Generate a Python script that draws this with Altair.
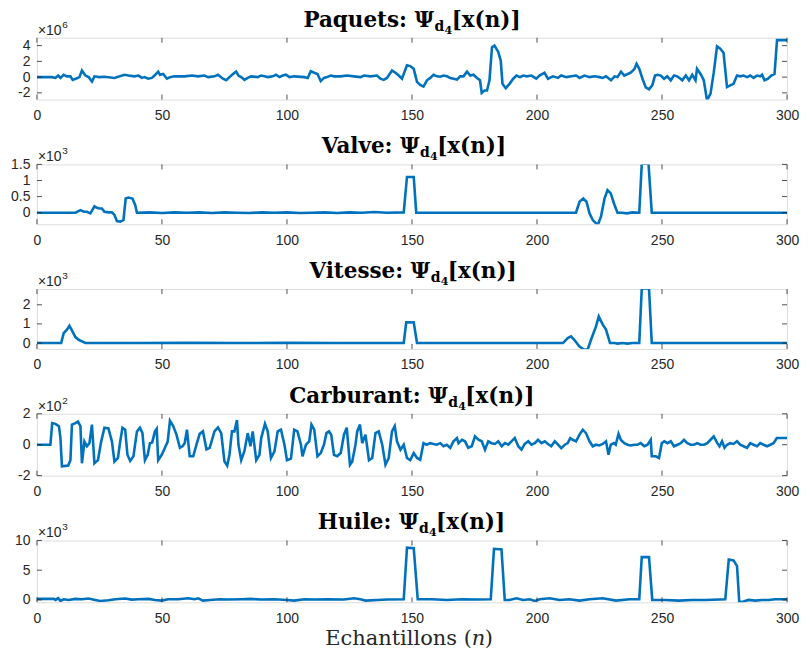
import altair as alt
import pandas as pd

# ---------------- data ----------------
X_TICKS = [0, 50, 100, 150, 200, 250, 300]

paquets_n = [0,6,7.4,8.5,9.4,10.7,12,13.4,14.3,16,17,18,19.4,20.7,22,23,25,27,31,35,36.6,39,40.6,42,43,44.5,46,47,48.5,49.2,50.5,52,53.2,55,59,62,64.5,67,68.5,71,72.4,74.4,75.7,77,78.4,79.7,80.6,81.7,83,84.3,85.7,88.3,89.6,91,92.3,94.3,95.6,97,98.3,99.6,101,103,107,108.3,109.5,110.9,112.2,113.5,114.8,116,117.5,118.8,121.5,124,126.8,129.4,130.8,133.4,136,137.4,138.7,140,142,143.4,144.7,146,148,149.3,150.7,152,153.3,154.6,156,157.3,158.6,160,161.3,162.6,164,165.3,166.6,168,169.3,170.6,172,173.3,174.6,176,177.2,177.9,179,180,181,182,183,184.5,185.5,186.2,187.5,189,190.5,191.8,193.2,194.5,195.8,197.8,199.7,201,203,204.4,206.4,208.4,209.7,211.7,213.7,215.7,217,219,221,223,225,226.3,227.6,229.6,231,232.2,233.6,234.9,236.3,237.6,239,239.8,240.9,242.2,243.5,244.8,246.1,247.2,248.2,249.5,250.8,252.1,253.5,254.8,256.1,257.4,258.1,259.5,260.8,262.1,263.4,264,265.4,266.7,268,269.4,270.7,272,273.3,274.6,276,277.3,278.6,280,281.3,282.6,284,285.3,286.6,288,289.3,290,291,292.4,293.7,295,296,300]
paquets_v = [0,0,-0.1,0.2,-0.1,0.3,0.1,0.1,-0.35,-0.15,0,0.85,0.2,0,-0.55,0.1,0,0.05,-0.1,0.3,0.2,0.1,0.2,-0.1,0,-0.2,-0.1,0.2,0.7,0.3,0.4,-0.2,0,0.1,0.1,0.2,0.1,0.2,0,0.1,0.3,-0.2,-0.4,0,0.4,0.7,0.2,0,-0.35,-0.1,0.1,0,0.2,0.1,0,0.1,0.3,0,0.2,0.3,0,0.1,0,-0.1,0.75,0.55,0.4,-0.5,-0.1,0,0.2,0.1,0.1,0.2,0.1,0,0.2,0.1,0.2,-0.2,-0.35,-0.1,0.85,0.55,0.2,-0.2,1.5,1.4,1.05,-0.6,-1.0,-1.2,-0.4,-0.1,0.3,0.1,0.05,0.2,0.1,-0.1,-0.2,-0.3,0.1,0.1,0.7,0.2,0.3,-0.1,-0.4,-2.0,-1.7,-1.7,-0.4,3.8,4.0,3.2,2.1,-0.85,-1.4,-0.85,-0.2,0.2,0,0.2,0.1,0.2,-0.2,0.2,0.55,-0.2,0.1,-0.1,0.2,0,0.1,0.2,-0.1,0.2,0,0.1,0,-0.1,0.1,-0.4,0.1,0,0.7,0.2,0.4,0.6,1.05,1.7,1.05,-0.2,-1.3,-1.55,-1.05,0.2,0.3,0.2,-0.2,0.1,-0.4,0.2,0.1,-0.2,-0.4,0.2,-0.4,0.3,-0.4,1.05,0.4,-0.4,-2.95,-2.1,0.6,3.9,3.6,3.1,-1.26,-1.05,-0.85,0.2,0.1,0.2,0,0.2,-0.1,0.2,0.1,0.3,-0.4,-0.2,0.2,0.4,4.7,4.7]

valve_n = [0,15.4,17.4,18.8,20,21.4,23,24,25,26,27,28.6,30,31,32,33.3,34.6,35.5,36.6,38.2,39.3,40,45,50,55,60,65,70,75,80,85,90,95,100,105,110,115,120,125,130,135,140,146.7,148,150.7,151.7,160,170,180,190,200,210,215.6,217,218.5,219.8,221,222.3,224.3,225.6,227,228.2,229.5,231,232.2,234,236,238,240.9,241.9,244.6,245.9,300]
valve_v = [0,0,0.08,0.03,0.03,-0.02,0.2,0.15,0.13,0.13,0.03,0.01,0.01,-0.07,-0.26,-0.28,-0.23,0.44,0.47,0.44,0.24,0,0.01,-0.01,0.01,0,0.01,-0.01,0.01,0,-0.01,0.01,0,0.01,-0.01,0,0.01,-0.01,0.01,0,0.02,0,0.01,1.11,1.11,0,0,0,0,0,0,0,0,0.34,0.44,0.34,-0.02,-0.23,-0.38,-0.12,0.44,0.7,0.6,0.24,0,0,-0.02,0.01,0,1.52,1.52,0,0]

vitesse_n = [0,9.7,10.7,12,13,14,15.4,16.7,18,19.4,40,60,80,100,120,146.7,147.7,150.7,152,180,210.4,212.3,213.6,214.9,216.9,218.9,220.3,221.6,223.6,224.7,226.3,227.6,229.2,231,232.2,234.2,236.2,238.2,240.9,241.9,244.8,245.9,300]
vitesse_v = [0,0,0.52,0.7,0.9,0.66,0.31,0.17,0.09,0,0,0.01,0,0.01,0,0,1.08,1.08,0,0,0,0.26,0.35,0.17,-0.17,-0.35,-0.33,0.17,0.87,1.39,0.96,0.7,0,0,-0.03,0,-0.03,0,0,2.85,2.85,0,0]

carburant_n = [0,5.4,6.1,7.4,8.8,9.4,10,11.4,12.5,13.4,14,15.4,16.4,17.4,18,19,20,21,22,23,24.4,25.7,27,28.6,30,31,32.4,33.3,34.2,35.3,36.2,37.3,38.6,40,41.2,42.2,43.2,44.3,45.2,46.1,47.2,47.9,48.5,49.9,51.2,52.3,53.2,54.5,55.8,57.2,58.2,59.1,60,61.1,62.5,63.8,65.1,66.4,67.8,69.1,71,72.4,73.7,75,76.1,77,78,79,80,80.6,81.7,83,84.3,85.4,86.3,87.7,89,89.7,91.2,92.3,93.6,95,96.3,97.6,99,100,101.6,102.9,104.2,105.6,106.2,107.6,108.9,109.8,110.9,112.2,113.5,114.8,115.8,116.8,117.7,118.8,120.1,121.5,122.8,123.9,125.2,126.1,127.4,128.1,129.2,130.1,131.4,132.8,134.1,135.4,136.7,138.1,139.4,140.7,142,143.1,144,145.4,146.7,148,149.3,150.7,152,153.3,154.6,155.9,157.3,158.6,159.9,161.3,162.6,163.9,165.3,166.6,168,168.6,170,171.2,172.5,173.9,175.2,176.6,177.9,179.2,180.5,181.9,183.2,184.5,185.9,187.2,188.5,189.8,191.1,192.5,193.8,195.1,196.5,197.8,199.1,200.4,201.8,203.1,204.4,205.7,207.1,208.4,209.7,211.1,212.3,213.3,214.3,215.6,217,218.3,219.6,221,222.3,223.6,224.9,226.3,227.6,228.6,229.5,230.8,231.5,232.6,233.5,234.9,236.2,237.5,238.9,240.2,241.5,242.9,244.2,245.5,245.9,247.5,248.8,249.9,250.9,252.2,253.5,254.8,256.2,257.5,258.8,260.1,261.5,262.8,264.1,265.4,266.8,268.1,269.4,270.7,272.1,273,274,275,276,277.3,278.6,280,281.3,282.6,284,285.3,286.6,288,289.3,290.6,292,293.3,294.6,295.9,300]
carburant_v = [0,0,1.4,1.35,1.2,0.45,-1.4,-1.37,-1.35,-1.0,1.3,1.4,1.5,1.2,-1.2,0.2,-0.1,0.1,1.3,-1.2,-1.0,0.2,1.1,1.05,0.2,-1.1,-0.86,0.2,1.1,0.97,-0.65,-1.05,-0.75,0.86,1.1,0.75,-1.0,-0.65,0.1,0.15,0.86,1.02,-1.0,-0.65,-0.2,0.2,1.55,1.2,0.65,-0.2,-0.1,0.1,0.97,-0.75,-0.75,0,0.7,0.86,-0.3,-0.2,0.86,1.12,0.75,-1.08,-1.35,-0.65,0.86,0.86,1.6,0,-1.0,-0.4,0.75,-0.1,0.86,-1.0,-0.65,0.43,1.35,0.86,-0.86,-0.43,0.86,0.97,0,-1.0,-0.9,0.97,0.86,0,-0.75,0,0.22,1.3,0.97,-0.75,-0.54,0,0.75,0.86,0.65,-0.65,-0.75,-0.54,0.65,1.1,-1.3,-1.08,0,0.86,1.3,0.1,0.65,-1.0,-0.86,0.75,0.86,0,-1.3,-0.86,0.86,1.2,0.22,-0.32,0,-0.86,-1.0,-0.54,-0.86,-0.97,0.1,0,0.1,0.05,0,0.1,-0.1,0,-0.2,0.22,0.43,0.1,0.32,0.22,-0.2,-0.1,0.54,0.32,0.22,-0.32,0.22,0.1,0.05,0.22,-0.1,0.1,0,0.22,0.43,-0.1,-0.32,0.05,0.22,0,0.1,0.32,0.1,0.22,0.05,-0.1,0.22,0,-0.22,0,0.1,0.43,0.32,0.22,0.65,0.97,0.75,0.22,-0.1,0,-0.05,0.05,0.22,-0.65,0,0.1,0,0.7,0.32,0.1,0,-0.05,0,0,0.1,-0.1,0,0.32,-0.75,-0.75,-0.86,0.1,0.22,0.1,0.22,-0.1,0,0.1,0.32,0.1,0,0,0.1,0,0,0.1,0.32,0.54,0.1,-0.1,0.22,-0.2,0,0.1,0.05,0.22,0,-0.1,-0.2,0.1,0,-0.1,0.1,0,-0.1,0,0.1,0.43,0.43]

huile_n = [0,1.5,6.8,7.4,8.5,9.4,10.7,12.7,15.4,18,20.7,23.3,25.3,28.6,31.3,35.3,37.9,40.6,44.6,47.2,49.9,52.5,56.5,60.5,63.1,64.5,66.4,69.1,73.1,76.4,81.7,85.7,89.7,95,100,102.9,106.9,110.9,116.2,122.8,126.8,129.4,131.4,136.1,140,146.7,148,150.7,152.3,158,164,170,176,181.5,182.8,185.8,187.1,189,191.8,194.4,197.1,199.1,201.1,205,209,213,217,221,226.3,231.6,237,240.9,241.9,244.8,246.1,251.4,256.7,262,267.3,275.3,276.7,278.6,280,280.9,282.6,284.6,287.3,290,292.6,295.3,300]
huile_v = [0.17,0.17,0.17,0,0.28,-0.17,0.11,0,0.17,0.11,0.23,0,-0.17,-0.06,0.11,0.23,0.06,0.11,0.17,0,-0.11,0.11,0.11,0.28,0.11,0.28,-0.11,0,0.11,0.06,0.11,0.17,0.06,0.11,0,-0.11,0.11,0.06,0.11,0.06,0.28,0.11,-0.11,0,0.06,0.11,8.8,8.7,0.11,0.11,0,0.11,0.06,0.11,8.6,8.5,0,0,0.28,0,0.11,-0.17,0.11,0.28,0,0.11,-0.11,0.11,0.28,-0.11,0.11,0.11,7.2,7.2,0,0,-0.11,0,0,0.11,6.8,6.65,5.7,-0.4,-0.28,0,-0.11,0,0,0.11,0.11]

PANELS = [
    ("Paquets:", "6", paquets_n, paquets_v, [-2.85, 5.0], [-2, 0, 2, 4]),
    ("Valve:", "3", valve_n, valve_v, [-0.36, 1.5], [0, 0.5, 1, 1.5]),
    ("Vitesse:", "3", vitesse_n, vitesse_v, [-0.31, 2.82], [0, 1, 2]),
    ("Carburant:", "2", carburant_n, carburant_v, [-2, 2], [-2, 0, 2]),
    ("Huile:", "3", huile_n, huile_v, [-0.4, 10], [0, 5, 10]),
]

# ---------------- style ----------------
W = 752
HEIGHTS = [62, 60, 60, 62, 62]
LINE_COLOR = "#0072BD"
AX_COLOR = "#262626"
SANS = "Liberation Sans"
SERIF_B = "DejaVu Serif"
TFS = 21.5
SUB1 = 14
SUB2 = 11
EM = {'P':0.73,'a':0.65,'q':0.72,'u':0.72,'e':0.65,'t':0.48,'s':0.59,':':0.40,' ':0.35,
      'V':0.84,'l':0.38,'v':0.67,'i':0.38,'C':0.78,'r':0.55,'b':0.72,'n':0.72,'H':0.96,'\u03a8':0.92}


def text_w(s, fs):
    return sum(EM.get(c, 0.65) for c in s) * fs


def panel(name, mexp, ns, vs, dom, yt, H, last):
    df = pd.DataFrame({"n": ns, "v": vs})
    xs = alt.Scale(domain=[0, 300], nice=False, zero=False)
    ys = alt.Scale(domain=dom, nice=False, zero=False)
    xax = alt.Axis(values=X_TICKS, title=None, domain=False, ticks=False, grid=False,
                   labelPadding=9, labelFontSize=14, labelFont=SANS, labelColor=AX_COLOR,
                   labelFlush=False)
    yax = alt.Axis(values=yt, title=None, domain=False, ticks=False, grid=False,
                   labelPadding=7, labelFontSize=14, labelFont=SANS, labelColor=AX_COLOR,
                   labelExpr="'' + datum.value")
    line = alt.Chart(df).mark_line(color=LINE_COLOR, strokeWidth=2.6, clip=True).encode(
        x=alt.X("n:Q", scale=xs, axis=xax), y=alt.Y("v:Q", scale=ys, axis=yax))

    xtd = alt.Chart(pd.DataFrame({"n": X_TICKS}))
    ytd = alt.Chart(pd.DataFrame({"v": yt}))
    tk = dict(color=AX_COLOR, strokeWidth=0.8)
    xb = xtd.mark_rule(**tk).encode(x=alt.X("n:Q", scale=xs, axis=xax), y=alt.value(H), y2=alt.value(H - 5))
    xt = xtd.mark_rule(**tk).encode(x=alt.X("n:Q", scale=xs, axis=xax), y=alt.value(0), y2=alt.value(5))
    yl = ytd.mark_rule(**tk).encode(y=alt.Y("v:Q", scale=ys, axis=yax), x=alt.value(0), x2=alt.value(5))
    yr = ytd.mark_rule(**tk).encode(y=alt.Y("v:Q", scale=ys, axis=yax), x=alt.value(W), x2=alt.value(W - 5))

    one = alt.Chart(pd.DataFrame({"k": [0]}))
    mul1 = one.mark_text(align="left", baseline="alphabetic", font=SANS, fontSize=14,
                         color=AX_COLOR).encode(x=alt.value(1), y=alt.value(-3), text=alt.value("\u00d710"))
    mul2 = one.mark_text(align="left", baseline="alphabetic", font=SANS, fontSize=10,
                         color=AX_COLOR).encode(x=alt.value(25.5), y=alt.value(-10), text=alt.value(mexp))

    left = name + " \u03a8"
    wl = text_w(left, TFS)
    wsub = 0.72 * SUB1 + 0.6 * SUB2
    wr = 3.38 * TFS
    total = wl + wsub + wr
    a = W / 2 - total / 2 + wl
    ty = -11
    tstyle = dict(font=SERIF_B, fontWeight="bold", color="#000000")
    t1 = one.mark_text(align="right", baseline="alphabetic", fontSize=TFS, **tstyle).encode(
        x=alt.value(a), y=alt.value(ty), text=alt.value(left))
    t2 = one.mark_text(align="left", baseline="alphabetic", fontSize=SUB1, **tstyle).encode(
        x=alt.value(a + 0.5), y=alt.value(ty + 4), text=alt.value("d"))
    t3 = one.mark_text(align="left", baseline="alphabetic", fontSize=SUB2, **tstyle).encode(
        x=alt.value(a + 0.5 + 0.72 * SUB1), y=alt.value(ty + 7), text=alt.value("4"))
    t4 = one.mark_text(align="left", baseline="alphabetic", fontSize=TFS, **tstyle).encode(
        x=alt.value(a + wsub + 1), y=alt.value(ty), text=alt.value("[x(n)]"))

    layers = [line, xb, xt, yl, yr, mul1, mul2, t1, t2, t3, t4]
    if last:
        ax = W / 2 + 60
        ty2 = H + 43
        xl1 = one.mark_text(align="right", baseline="alphabetic", font="DejaVu Serif",
                            fontSize=21, color=AX_COLOR).encode(
            x=alt.value(ax), y=alt.value(ty2), text=alt.value("Echantillons ("))
        xl2 = one.mark_text(align="left", baseline="alphabetic", font="DejaVu Serif",
                            fontStyle="italic", fontSize=21, color=AX_COLOR).encode(
            x=alt.value(ax), y=alt.value(ty2), text=alt.value("n"))
        xl3 = one.mark_text(align="left", baseline="alphabetic", font="DejaVu Serif",
                            fontSize=21, color=AX_COLOR).encode(
            x=alt.value(ax + 13), y=alt.value(ty2), text=alt.value(")"))
        layers += [xl1, xl2, xl3]
    return alt.layer(*layers).properties(width=W, height=H)


charts = [panel(*p, HEIGHTS[i], i == len(PANELS) - 1) for i, p in enumerate(PANELS)]
chart = alt.vconcat(*charts, spacing=65, bounds="flush").properties(
    padding={"left": 2, "top": 0, "right": 0, "bottom": 0}
).configure_view(stroke=AX_COLOR, strokeWidth=0.8).configure(background="white")

chart.save("out.html", embed_options={"renderer": "svg", "actions": False})
